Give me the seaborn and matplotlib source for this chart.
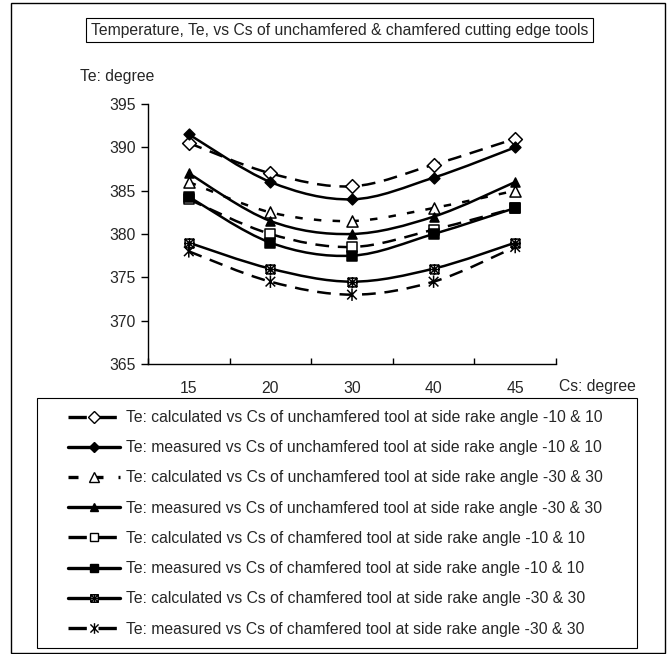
import numpy as np
import pandas as pd
import matplotlib
matplotlib.use("Agg")
import matplotlib.pyplot as plt
import seaborn as sns
from matplotlib.path import Path
from matplotlib.patches import PathPatch, Rectangle
from matplotlib.lines import Line2D

# ---------------- data ----------------
cs_labels = ["15", "20", "30", "40", "45"]
te_calc_unch_10 = [390.5, 387.0, 385.5, 388.0, 391.0]
te_meas_unch_10 = [391.5, 386.0, 384.0, 386.5, 390.0]
te_calc_unch_30 = [386.0, 382.5, 381.5, 383.0, 385.0]
te_meas_unch_30 = [387.0, 381.5, 380.0, 382.0, 386.0]
te_calc_ch_10 = [384.0, 380.0, 378.5, 380.5, 383.0]
te_meas_ch_10 = [384.3, 379.0, 377.5, 380.0, 383.0]
te_calc_ch_30 = [379.0, 376.0, 374.5, 376.0, 379.0]
te_meas_ch_30 = [378.0, 374.5, 373.0, 374.5, 378.5]

series_labels = [
    "Te: calculated vs Cs of unchamfered tool at side rake angle -10 & 10",
    "Te: measured vs Cs of unchamfered tool at side rake angle -10 & 10",
    "Te: calculated vs Cs of unchamfered tool at side rake angle -30 & 30",
    "Te: measured vs Cs of unchamfered tool at side rake angle -30 & 30",
    "Te: calculated vs Cs of chamfered tool at side rake angle -10 & 10",
    "Te: measured vs Cs of chamfered tool at side rake angle -10 & 10",
    "Te: calculated vs Cs of chamfered tool at side rake angle -30 & 30",
    "Te: measured vs Cs of chamfered tool at side rake angle -30 & 30",
]
series_values = [te_calc_unch_10, te_meas_unch_10, te_calc_unch_30, te_meas_unch_30,
                 te_calc_ch_10, te_meas_ch_10, te_calc_ch_30, te_meas_ch_30]
y_ticks = [365, 370, 375, 380, 385, 390, 395]

title_text = "Temperature, Te, vs Cs of unchamfered & chamfered cutting edge tools"
y_title = "Te: degree"
x_title = "Cs: degree"

# ---------------- styles ----------------
M, L = Path.MOVETO, Path.LINETO
star_path = Path([(-1, -1), (1, 1), (-1, 1), (1, -1), (0, -1.3), (0, 1.3)],
                 [M, L, M, L, M, L])
burst_path = Path([(-1, -1), (1, 1), (-1, 1), (1, -1), (0, -1.1), (0, 1.1),
                   (-1.1, 0), (1.1, 0), (-1, -1), (-1, 1), (1, 1), (1, -1), (-1, -1)],
                  [M, L, M, L, M, L, M, L, M, L, L, L, L])
styles = [
    dict(marker="D", ms=7, fc="white", ls=(0, (5.5, 3.5))),
    dict(marker="D", ms=5.5, fc="black", ls="-"),
    dict(marker="^", ms=8, fc="white", ls=(0, (3, 4.5))),
    dict(marker="^", ms=6.5, fc="black", ls="-"),
    dict(marker="s", ms=7.5, fc="white", ls=(0, (5.5, 3.5))),
    dict(marker="s", ms=6.5, fc="black", ls="-"),
    dict(marker=burst_path, ms=7, fc="white", ls="-"),
    dict(marker=star_path, ms=9, fc="none", ls=(0, (5.5, 3.5))),
]

FS = 11.3
sns.set_theme(style="white")
plt.rcParams["font.family"] = ["Liberation Sans", "DejaVu Sans"]
plt.rcParams["font.size"] = FS

W, H = 667, 654
fig = plt.figure(figsize=(W / 100, H / 100), dpi=100)
ax = fig.add_axes([148 / W, 1 - 364 / H, (556 - 148) / W, (364 - 104) / H])

lw = 1.8
for vals, st in zip(series_values, styles):
    xs = np.arange(len(vals), dtype=float)
    ys = np.asarray(vals, dtype=float)
    # smoothed (Excel-like) curve through the data points
    pts = np.column_stack([xs, ys])
    verts = [tuple(pts[0])]
    codes = [Path.MOVETO]
    n = len(pts)
    for i in range(n - 1):
        p0 = pts[i - 1] if i > 0 else pts[i]
        p1, p2 = pts[i], pts[i + 1]
        p3 = pts[i + 2] if i + 2 < n else pts[i + 1]
        c1 = p1 + (p2 - p0) / 6.0
        c2 = p2 - (p3 - p1) / 6.0
        verts += [tuple(c1), tuple(c2), tuple(p2)]
        codes += [Path.CURVE4] * 3
    ax.add_patch(PathPatch(Path(verts, codes), fill=False, ec="black", lw=lw,
                           ls=st["ls"], zorder=2, capstyle="butt"))
    df = pd.DataFrame({"Cs": cs_labels, "Te": vals})
    sns.scatterplot(data=df, x="Cs", y="Te", ax=ax, marker=st["marker"],
                    s=st["ms"] ** 2, color="black", facecolor=st["fc"],
                    edgecolor="black", linewidth=1.1, zorder=3, legend=False)

ax.set_xlim(-0.5, len(cs_labels) - 0.5)
ax.set_ylim(365, 395)
ax.set_yticks(y_ticks)
ax.set_xticks(range(len(cs_labels)))
ax.set_xticklabels(cs_labels)
ax.set_xticks(np.arange(-0.5, len(cs_labels), 1.0), minor=True)
ax.set_xlabel("")
ax.set_ylabel("")
for s in ["top", "right"]:
    ax.spines[s].set_visible(False)
for s in ["left", "bottom"]:
    ax.spines[s].set_color("black")
    ax.spines[s].set_linewidth(1.0)
ax.tick_params(axis="y", which="major", direction="out", length=5, width=1,
               color="black", pad=4, labelsize=FS, left=True)
ax.tick_params(axis="x", which="major", length=0, pad=12.5, labelsize=FS)
ax.tick_params(axis="x", which="minor", direction="in", length=4, width=1,
               color="black", bottom=True)
ax.grid(False)

# titles
fig.text(339.5 / W, 1 - 30 / H, title_text, ha="center", va="center", fontsize=FS,
         bbox=dict(boxstyle="square,pad=0.3", fc="white", ec="black", lw=0.8))
fig.text(80 / W, 1 - 76 / H, y_title, ha="left", va="center", fontsize=FS)
fig.text(559 / W, 1 - 386 / H, x_title, ha="left", va="center", fontsize=FS)

# legend
handles = [Line2D([0], [0], color="black", lw=2.4, ls=st["ls"], marker=st["marker"],
                  ms=st["ms"] * 0.85, mfc=st["fc"], mec="black", mew=1.0)
           for st in styles]
fig.legend(handles, series_labels, loc="upper left",
           bbox_to_anchor=(68 / W, 1 - 410 / H), bbox_transform=fig.transFigure,
           frameon=False, borderpad=0, borderaxespad=0, handlelength=3.3,
           handletextpad=0.4, labelspacing=0.97, fontsize=FS)
fig.patches.append(Rectangle((37 / W, 1 - 648 / H), (637 - 37) / W, (648 - 398) / H,
                             transform=fig.transFigure, fill=False, ec="black", lw=0.8))
fig.patches.append(Rectangle((11 / W, 1 - 653 / H), (665 - 11) / W, (653 - 3) / H,
                             transform=fig.transFigure, fill=False, ec="black", lw=1.0))

fig.savefig("out.png", dpi=100)
